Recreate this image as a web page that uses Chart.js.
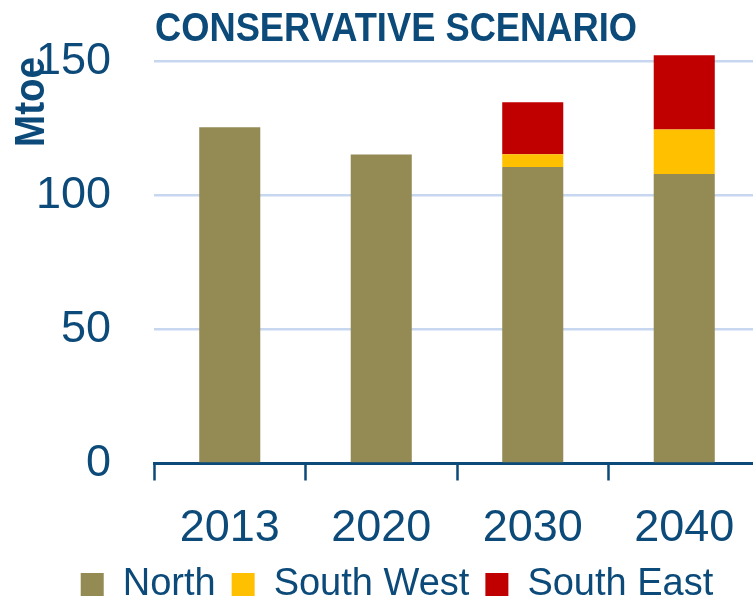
<!DOCTYPE html>
<html>
<head>
<meta charset="utf-8">
<script src="https://cdn.jsdelivr.net/npm/chart.js@4/dist/chart.umd.min.js"></script>
<style>
  html, body { margin: 0; padding: 0; background: #fff; overflow: hidden; }
  #wrap { width: 753px; height: 601px; overflow: hidden; position: relative; }
  canvas { display: block; }
</style>
</head>
<body>
<div id="wrap"><canvas id="c" width="794" height="601" style="width:794px;height:601px"></canvas></div>
<script>
// Primary energy demand by region, conservative scenario (Mtoe)
const years = ['2013', '2020', '2030', '2040'];
const north = [125.4, 115.2, 110.6, 108.0];
const southWest = [null, null, 4.7, 16.6];
const southEast = [null, null, 19.4, 27.7];
const yTicks = [0, 50, 100, 150];
const yMax = 160;

const chartTitle = 'CONSERVATIVE SCENARIO';
const unitLabel = 'Mtoe';

const NAVY = '#0c4a7a';
const FONT = '"Liberation Sans", Arial, sans-serif';

// Condensed bold headings drawn onto the canvas
const headings = {
  id: 'headings',
  afterDraw(chart) {
    const ctx = chart.ctx;
    ctx.save();
    ctx.fillStyle = NAVY;
    ctx.textAlign = 'left';
    ctx.textBaseline = 'alphabetic';
    // chart title
    ctx.font = 'bold 40px ' + FONT;
    let w = ctx.measureText(chartTitle).width;
    ctx.save();
    ctx.translate(155, 41);
    ctx.scale(482 / w, 1);
    ctx.fillText(chartTitle, 0, 0);
    ctx.restore();
    // unit label, rotated
    ctx.font = 'bold 42px ' + FONT;
    w = ctx.measureText(unitLabel).width;
    ctx.save();
    ctx.translate(44, 147);
    ctx.rotate(-Math.PI / 2);
    ctx.scale(90 / w, 1);
    ctx.fillText(unitLabel, 0, 0);
    ctx.restore();
    ctx.restore();
  }
};

new Chart(document.getElementById('c'), {
  type: 'bar',
  data: {
    labels: years,
    datasets: [
      { label: 'North', data: north, backgroundColor: '#948a54' },
      { label: 'South West', data: southWest, backgroundColor: '#ffc000' },
      { label: 'South East', data: southEast, backgroundColor: '#c00000' }
    ]
  },
  options: {
    responsive: false,
    animation: false,
    devicePixelRatio: 1,
    layout: { padding: { top: 34.5, left: 34, right: 34, bottom: -12.5 } },
    datasets: { bar: { categoryPercentage: 1, barPercentage: 0.403, borderWidth: 0 } },
    plugins: {
      title: { display: false },
      tooltip: { enabled: false },
      legend: {
        position: 'bottom',
        labels: {
          color: NAVY,
          font: { family: FONT, size: 38 },
          boxWidth: 23,
          boxHeight: 23,
          padding: 16
        }
      }
    },
    scales: {
      x: {
        stacked: true,
        offset: true,
        afterFit(scale) { scale.height = 86; },
        grid: {
          display: true,
          offset: true,
          drawOnChartArea: false,
          drawTicks: true,
          tickLength: 17,
          tickWidth: 2.5,
          tickColor: NAVY
        },
        border: { display: true, color: NAVY, width: 3 },
        ticks: { color: NAVY, font: { family: FONT, size: 45, lineHeight: 1.14 }, padding: 22, maxRotation: 0 }
      },
      y: {
        stacked: true,
        min: 0,
        max: yMax,
        afterBuildTicks(scale) { scale.ticks = yTicks.map(v => ({ value: v })); },
        afterFit(scale) {
          scale.width = 120;
          scale.paddingTop = 0;
          scale.paddingBottom = 0;
        },
        grid: { color: '#c6d7ef', lineWidth: 2.5, drawTicks: false },
        border: { display: false },
        ticks: { color: NAVY, font: { family: FONT, size: 45 }, padding: 43 }
      }
    }
  },
  plugins: [headings]
});
</script>
</body>
</html>
